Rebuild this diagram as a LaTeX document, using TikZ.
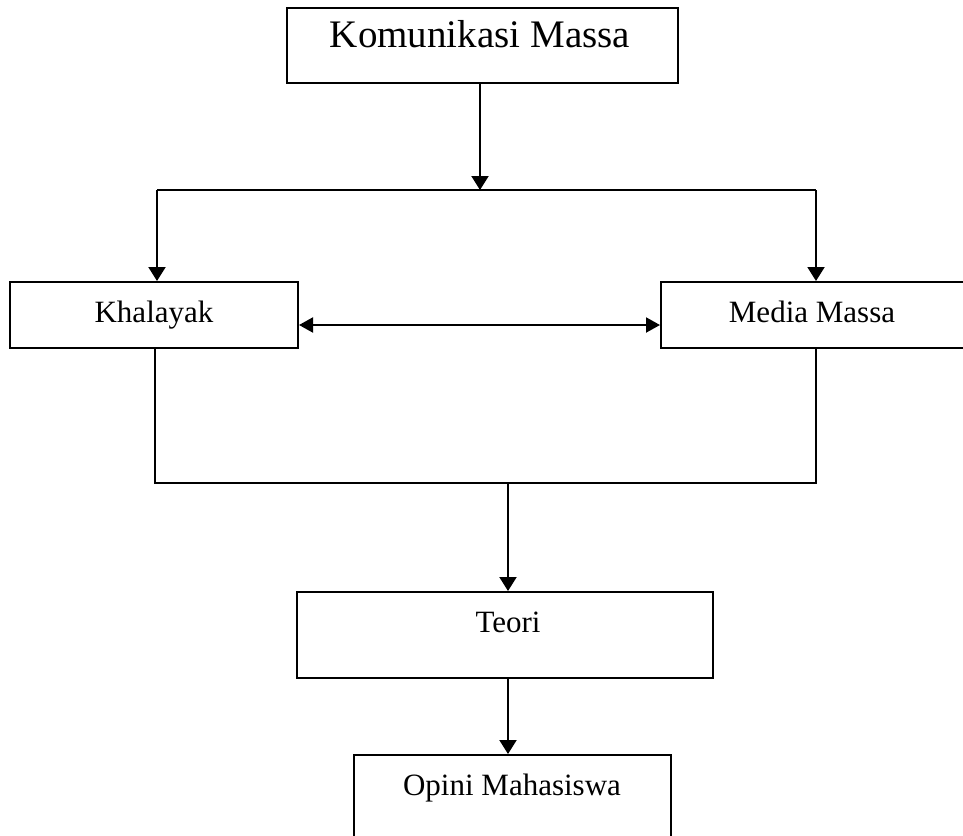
\documentclass[tikz,border=0pt]{standalone}
\usepackage{fontspec}
\setmainfont{Liberation Serif}
\usetikzlibrary{arrows.meta}
\begin{document}
\begin{tikzpicture}[x=1pt,y=-1pt,
  box/.style={draw=black,line width=2pt,rectangle,inner sep=0pt},
  lbl/.style={anchor=base,inner sep=0pt,font=\fontsize{31}{36}\selectfont},
  conn/.style={line width=2pt},
  arr/.style={line width=2pt,-{Triangle[length=14pt,width=17pt]}},
  darr/.style={line width=2pt,{Triangle[length=14pt,width=15pt]}-{Triangle[length=14pt,width=15pt]}}]
\useasboundingbox (0,0) rectangle (963,835);
% boxes
\node[box,minimum width=391pt,minimum height=75pt] (km) at (482.5,45.5) {};
\node[box,minimum width=288pt,minimum height=66pt] (kh) at (154,315) {};
\node[box,minimum width=320pt,minimum height=66pt] (mm) at (821,315) {};
\node[box,minimum width=416pt,minimum height=86pt] (te) at (505,635) {};
\node[box,minimum width=317pt,minimum height=90pt] (op) at (512.5,800) {};
% texts
\node[lbl,font=\fontsize{39}{45}\selectfont] (tkm) at (480,47) {Komunikasi Massa};
\node[lbl] (tkh) at (154,322) {Khalayak};
\node[lbl] (tmm) at (812,322) {Media Massa};
\node[lbl] (tte) at (508,632) {Teori};
\node[lbl] (top) at (512,795) {Opini Mahasiswa};
% junction coordinates
\coordinate (j1) at (480,190);
\coordinate (jl) at (157,190);
\coordinate (jr) at (816,190);
\coordinate (bl) at (155,483);
\coordinate (br) at (816,483);
\coordinate (j2) at (508,483);
% connectors
\draw[arr] (km.south -| j1) -- (j1);
\draw[conn] (jl) -- (jr);
\draw[arr] (jl) -- (jl |- kh.north);
\draw[arr] (jr) -- (jr |- mm.north);
\draw[darr] (kh.east |- 0,325) -- (mm.west |- 0,325);
\draw[conn] (bl |- kh.south) -- (bl) -- (br) -- (br |- mm.south);
\draw[arr] (j2) -- (j2 |- te.north);
\draw[arr] (te.south -| j2) -- (j2 |- op.north);
\end{tikzpicture}
\end{document}
